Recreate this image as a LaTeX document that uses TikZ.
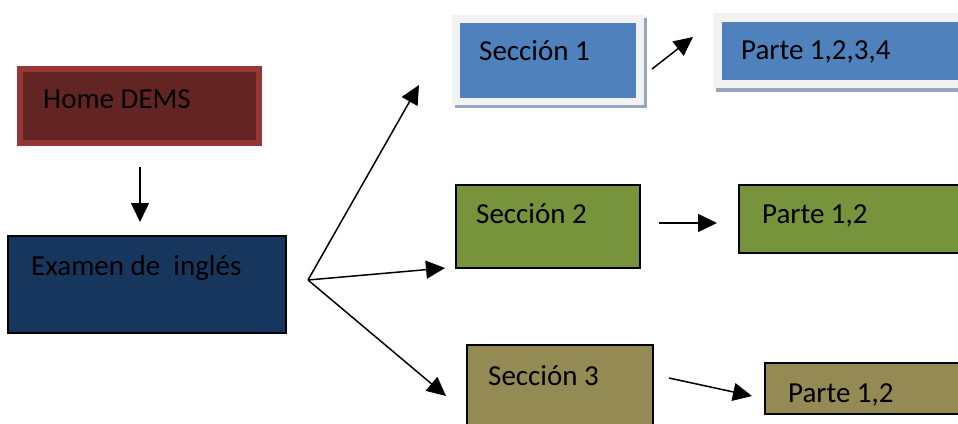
\documentclass[tikz,border=0pt]{standalone}
\usepackage{fontspec}
\setmainfont{Carlito}
\usetikzlibrary{arrows.meta}
\definecolor{homefill}{HTML}{632523}
\definecolor{homeedge}{HTML}{953735}
\definecolor{examfill}{HTML}{17365D}
\definecolor{bluefill}{HTML}{4F81BD}
\definecolor{framefill}{HTML}{F2F2F2}
\definecolor{shadowfill}{HTML}{98A6BC}
\definecolor{greenfill}{HTML}{77933C}
\definecolor{olivefill}{HTML}{948A54}
\tikzset{
  box/.style={rectangle, inner sep=0pt, outer sep=0pt, anchor=north west},
  plainbox/.style={box, draw=black, line width=1.3pt},
  txt/.style={inner sep=0pt, anchor=base west, font=\fontsize{29}{33}\selectfont, text=black},
  arr/.style={line width=1.5pt, -{Triangle[length=19pt,width=18pt]}},
}
\begin{document}
\begin{tikzpicture}[x=1pt,y=-1pt]
\useasboundingbox (0,0) rectangle (958,423);
\begin{scope}
\clip (0,0) rectangle (958,423);
% Home DEMS
\node[box, draw=homeedge, fill=homefill, line width=5.5pt, minimum width=239pt, minimum height=74pt] (home) at (20,69) {};
\node[txt] (homeT) at (43,108) {Home DEMS};
% Examen
\node[plainbox, fill=examfill, minimum width=278pt, minimum height=97pt] (exam) at (8,236) {};
\node[txt] (examT) at (31,275) {Examen de\ \ inglés};
% Seccion 1
\node[box, fill=shadowfill, minimum width=192pt, minimum height=90pt] (sec1s) at (455,18) {};
\node[box, fill=framefill, minimum width=192pt, minimum height=90pt] (sec1f) at (452,15) {};
\node[box, fill=bluefill, minimum width=176pt, minimum height=75pt] (sec1) at (460,23) {};
\node[txt] (sec1T) at (479,60) {Sección 1};
% Parte 1,2,3,4
\node[box, fill=shadowfill, minimum width=260pt, minimum height=76pt] (p1s) at (716,16) {};
\node[box, fill=framefill, minimum width=260pt, minimum height=75pt] (p1f) at (713,13) {};
\node[box, fill=bluefill, minimum width=250pt, minimum height=58pt] (p1) at (722,22) {};
\node[txt] (p1T) at (741,59) {Parte 1,2,3,4};
% Seccion 2
\node[plainbox, fill=greenfill, minimum width=184pt, minimum height=83pt] (sec2) at (456,185) {};
\node[txt] (sec2T) at (476,223) {Sección 2};
\node[plainbox, fill=greenfill, minimum width=240pt, minimum height=68pt] (p2) at (739,185) {};
\node[txt] (p2T) at (762,223) {Parte 1,2};
% Seccion 3
\node[plainbox, fill=olivefill, minimum width=186pt, minimum height=90pt] (sec3) at (467,345) {};
\node[txt] (sec3T) at (488,385) {Sección 3};
\node[plainbox, fill=olivefill, minimum width=215pt, minimum height=51pt] (p3) at (765,363) {};
\node[txt] (p3T) at (788,402) {Parte 1,2};
\end{scope}
% connectors
\coordinate (downA) at (140,167);
\coordinate (downB) at (140,222);
\coordinate (fan) at (308,280);
\coordinate (fan1) at (419,85);
\coordinate (fan2) at (445,268);
\coordinate (fan3) at (446,396);
\coordinate (s1a) at (652,69);
\coordinate (s1b) at (693,37);
\coordinate (s2a) at (659,223);
\coordinate (s2b) at (717,223);
\coordinate (s3a) at (669,378);
\coordinate (s3b) at (752,396);
\draw[arr] (downA) -- (downB);
\draw[arr] (fan) -- (fan1);
\draw[arr] (fan) -- (fan2);
\draw[arr] (fan) -- (fan3);
\draw[arr] (s1a) -- (s1b);
\draw[arr] (s2a) -- (s2b);
\draw[arr] (s3a) -- (s3b);
\end{tikzpicture}
\end{document}
